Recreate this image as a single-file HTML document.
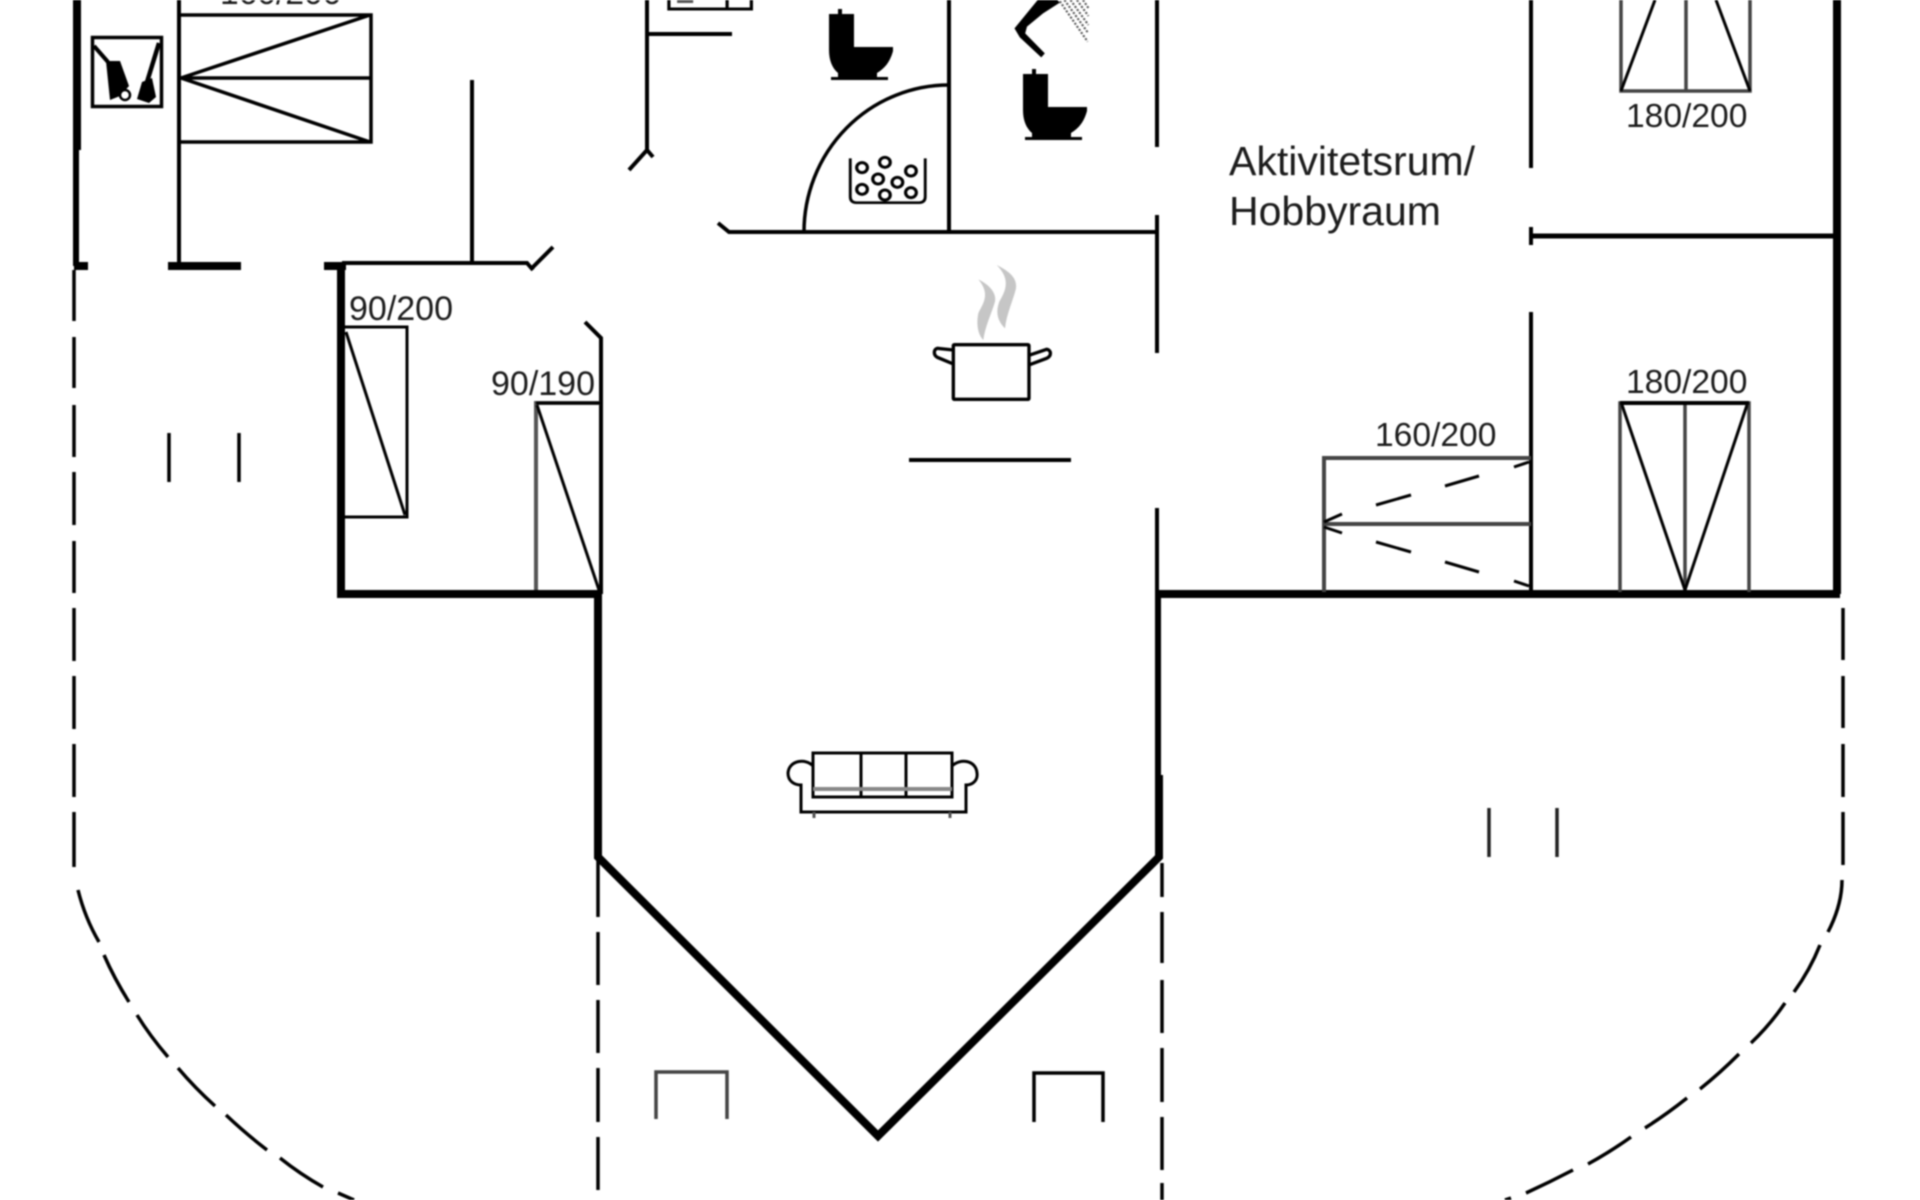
<!DOCTYPE html>
<html>
<head>
<meta charset="utf-8">
<style>
html,body{margin:0;padding:0;background:#fff;width:1920px;height:1200px;overflow:hidden}
svg{display:block;filter:blur(.7px)}
text{font-family:"Liberation Sans",sans-serif;fill:#1c1c1c}
</style>
</head>
<body>
<svg width="1920" height="1200" viewBox="0 0 1920 1200" xmlns="http://www.w3.org/2000/svg" fill="none" stroke="#000" stroke-width="4">
<rect x="0" y="0" width="1920" height="1200" fill="#fff" stroke="none"/>

<!-- thick walls -->
<g stroke-width="8">
<path d="M77 0V150"/>
<path d="M76 150V266" stroke-width="6"/>
<path d="M74 266H88"/>
<path d="M168 266H241"/>
<path d="M324 266H346"/>
<path d="M341 266V594H601"/>
<path d="M598 590V857L878 1136L1159 857V775"/>
<path d="M1158 775V594" stroke-width="6"/>
<path d="M1157 594V508" stroke-width="4"/>
<path d="M1156 594H1840"/>
<path d="M1837 0V594"/>
</g>

<!-- thin walls -->
<path d="M179 0V264"/>
<path d="M472 80V262"/>
<path d="M342 263H527L533 270M531 269L553 247"/>
<path d="M601 594V338L585 322"/>
<path d="M647 0V150M653 157L647 150L629 170"/>
<path d="M647 34H732"/>
<path d="M949 0V232"/>
<path d="M729 232H1157L729 232L718 223"/>
<path d="M804 232A145 147 0 0 1 949 85" stroke-width="3.5"/>
<path d="M1157 0V147M1157 215V353"/>
<path d="M1531 0V168M1531 227V245M1531 312V590"/>
<path d="M1531 236H1835" stroke-width="5"/>
<path d="M909 460H1071"/>

<!-- ticks and brackets -->
<g stroke-width="3.5">
<path d="M169 433V482M239 433V482"/>
<path d="M1489 808V857M1557 808V857" stroke="#222"/>
<path d="M656 1119V1072H727V1119" stroke="#444"/>
<path d="M1034 1122V1073H1103V1122"/>
</g>

<!-- beds -->
<g stroke-width="3">
<path d="M179 15H371V142H179M179 78H371M181 78L370 15M181 78L370 142" stroke-width="3.5"/>
<path d="M345 327H407V517H345M346 332L405 515" stroke-width="3"/>
<path d="M536 590V403H600" stroke="#555" stroke-width="4"/>
<path d="M536 403H600M537 405L599 590"/>
<path d="M1621 0V91H1750V0M1686 0V91" stroke="#444" stroke-width="3.5"/>
<path d="M1621 91L1655 0M1750 91L1716 0"/>
<path d="M1324 592V458H1531M1324 524H1531" stroke="#444" stroke-width="4"/>
<path d="M1529 462L1514 467M1479 476L1445 486M1411 495L1376 505M1342 514L1324 522M1324 527L1342 533M1376 542L1411 552M1445 562L1479 572M1514 581L1529 586" stroke-width="3"/>
<path d="M1620 592V403H1749V592M1685 403V590" stroke="#444" stroke-width="3.5"/>
<path d="M1620 403H1749" stroke-width="4"/>
<path d="M1622 405L1685 590L1747 405"/>
</g>

<!-- dashed outlines -->
<g stroke-width="3.5">
<path d="M74 270V321M74 337V388M74 405V457M74 472V525M74 541V593M74 608V661M74 676V729M74 744V797M74 812V867"/>
<path d="M78 890Q85 918 99 942M104 955Q114 978 129 1002M137 1015Q150 1036 168 1057M178 1068Q195 1088 215 1106M226 1115Q245 1133 267 1150M280 1158Q300 1174 323 1187M338 1193L354 1200"/>
<path d="M598 860V917M598 932V985M598 1000V1053M598 1068V1122M598 1137V1190"/>
<path d="M1162 863V897M1162 912V963M1162 980V1033M1162 1048V1102M1162 1117V1170M1162 1183V1200"/>
<path d="M1843 608V660M1843 676V728M1843 744V797M1843 812V865"/>
<path d="M1842 880Q1842 905 1828 932M1820 945Q1810 970 1794 992M1785 1003Q1770 1025 1751 1043M1739 1054Q1720 1073 1700 1089M1687 1098Q1667 1114 1645 1128M1631 1137Q1610 1152 1588 1164M1573 1170Q1550 1182 1526 1193M1511 1198L1505 1200"/>
</g>

<!-- machine box -->
<g>
<rect x="92.500" y="37.500" width="69" height="69" stroke-width="3.500"/>
<path d="M94 46L108 62" stroke-width="4"/>
<polygon points="106,61 120,61 129,86 120,96 110,100" fill="#000" stroke="none"/>
<circle cx="125" cy="95" r="5" stroke-width="2.500" fill="#fff"/>
<path d="M159 43L147 82" stroke-width="4.500"/>
<polygon points="142,82 152,78 156,97 149,103 137,99" fill="#000" stroke="none"/>
</g>

<!-- top box -->
<g transform="translate(620,0) scale(.357,.3333)">
<path d="M137 0V27H368V0M300 0V27" stroke-width="9"/>
<rect x="160" y="0" width="45" height="9" fill="#555" stroke="none"/>
</g>

<!-- toilets -->
<g fill="#000" stroke="none">
<path d="M838 14V9H842V14H854V47H893V51C890 62 885 68 877 73V77H888V80H831V77H838V73C832 68 829 60 829 50V14Z"/>
</g>
<g fill="#000" stroke="none" transform="translate(194,60)">
<path d="M838 14V9H842V14H854V47H893V51C890 62 885 68 877 73V77H888V80H831V77H838V73C832 68 829 60 829 50V14Z"/>
</g>

<!-- shower -->
<g transform="translate(620,0) scale(.357,.3333)">
<path d="M1170 0L1105 85L1120 112L1180 172L1190 160L1135 100L1140 80L1185 40L1232 8L1225 0Z" fill="#000" stroke="none"/>
<g stroke="#555" stroke-width="6" stroke-dasharray="6 5">
<path d="M1232 4L1310 125M1245 0L1312 100M1262 0L1312 75M1280 0L1312 48M1297 0L1312 24"/>
</g>
</g>

<!-- tub -->
<g transform="translate(620,0) scale(.357,.3333)">
<path d="M645 475V590Q645 608 662 608H838Q855 608 855 590V475" stroke-width="8"/>
<g stroke-width="9">
<circle cx="678" cy="503" r="15"/><circle cx="742" cy="487" r="15"/><circle cx="815" cy="513" r="15"/>
<circle cx="723" cy="537" r="15"/><circle cx="777" cy="547" r="15"/><circle cx="678" cy="568" r="15"/>
<circle cx="742" cy="585" r="15"/><circle cx="815" cy="578" r="15"/>
</g>
</g>

<!-- pot and steam -->
<g transform="translate(880,250) scale(.3333)">
<path d="M295 88C330 105 350 130 345 155C335 190 315 230 310 270C295 255 288 225 295 190C305 165 335 135 295 88Z" fill="#c6c6c6" stroke="none"/>
<path d="M350 45C390 65 412 85 408 115C400 150 380 190 375 235C355 215 345 190 358 155C375 125 395 90 350 45Z" fill="#c6c6c6" stroke="none"/>
<rect x="220" y="284" width="227" height="164" rx="3" stroke-width="10"/>
<path d="M220 300L172 295C160 298 160 315 172 322L220 342" stroke-width="10"/>
<path d="M447 316L500 298C515 300 515 318 500 325L447 345" stroke-width="10"/>
</g>

<!-- sofa -->
<g stroke-width="3">
<rect x="813" y="753" width="139" height="44"/>
<path d="M861 753V797M906 753V797"/>
<path d="M813 789H952" stroke="#888" stroke-width="4"/>
<path d="M813 766C806 758 789 760 788 773C788 781 794 785 801 785V812H966V785C973 785 978 780 977 773C976 760 960 758 952 766"/>
<path d="M814 812V818M950 812V818" stroke="#555"/>
</g>

<!-- labels -->
<g stroke="none">
<text x="220" y="4" font-size="33.600">160/200</text>
<text x="349" y="320" font-size="34">90/200</text>
<text x="491" y="395" font-size="34">90/190</text>
<text x="1375" y="446" font-size="33.600">160/200</text>
<text x="1626" y="393" font-size="33.600">180/200</text>
<text x="1626" y="127" font-size="33.600">180/200</text>
<text x="1229" y="175" font-size="41">Aktivitetsrum/</text>
<text x="1229" y="225" font-size="41">Hobbyraum</text>
</g>
</svg>
</body>
</html>
